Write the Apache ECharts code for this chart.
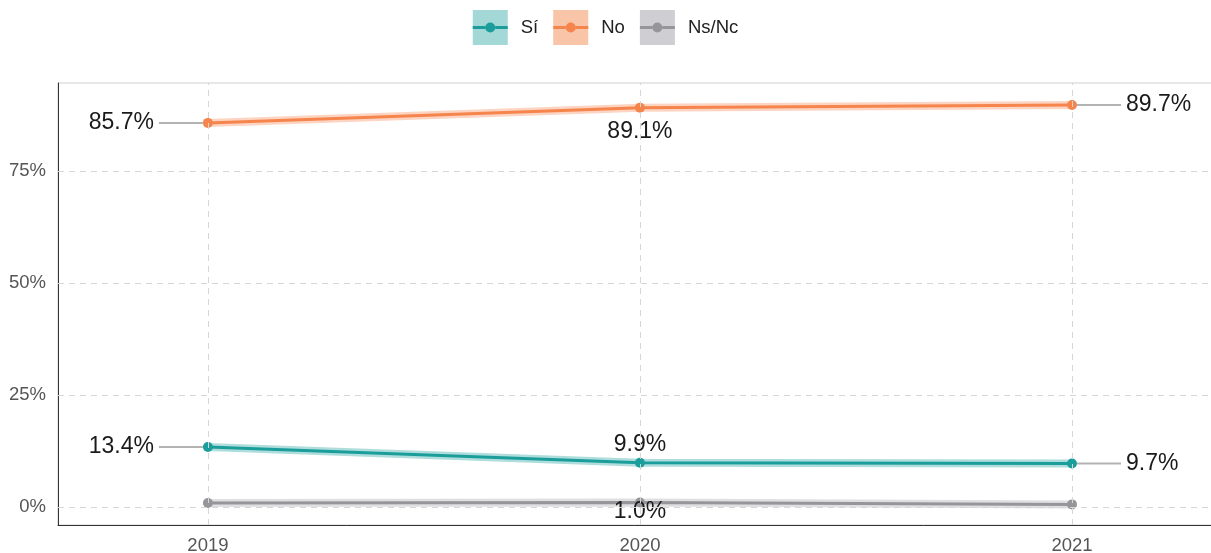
<!DOCTYPE html>
<html><head><meta charset="utf-8">
<script src="https://cdn.jsdelivr.net/npm/echarts@6/dist/echarts.min.js"></script>
<style>html,body{margin:0;padding:0;background:#fff}#c{width:1211px;height:553px}</style>
</head><body><div id="c"></div>
<script>
const years = [2019, 2020, 2021];
const seriesNames = ['Sí', 'No', 'Ns/Nc'];
const si = [13.4, 9.9, 9.7];
const no = [85.7, 89.1, 89.7];
const nsnc = [0.9, 1.0, 0.6];
const yTicks = [0, 25, 50, 75];
const labelPos = {
  'Sí': ['left', 'top', 'right'],
  'No': ['left', 'bottom', 'right'],
  'Ns/Nc': [null, 'overlap', null]
};
const colors = {'Sí': '#1b9e9b', 'No': '#f5854c', 'Ns/Nc': '#96969a'};
const bandColors = {'Sí': 'rgba(27,158,155,0.35)', 'No': 'rgba(245,133,76,0.35)', 'Ns/Nc': 'rgba(150,150,154,0.3)'};
const boxColors = {'Sí': '#a3d8d6', 'No': '#f8c5a8', 'Ns/Nc': '#cfcfd3'};
const values = {'Sí': si, 'No': no, 'Ns/Nc': nsnc};
const FONT = 'Liberation Sans, Arial, sans-serif';

const chart = echarts.init(document.getElementById('c'), null, {renderer: 'canvas'});

const rich = {
  t: {fontSize: 23, color: '#1a1a1a', fontFamily: FONT},
  tl: {fontSize: 23, color: '#1a1a1a', fontFamily: FONT, padding: [0, 5, 0, 0]},
  tr: {fontSize: 23, color: '#1a1a1a', fontFamily: FONT, padding: [0, 0, 0, 5]},
  ln: {width: 44, height: 2, backgroundColor: '#b3b3b3', verticalAlign: 'middle'}
};

const series = [];
seriesNames.forEach((n, k) => {
  series.push({
    name: n + ' band', type: 'line', silent: true, z: 1,
    data: years.map((y, i) => [y, values[n][i]]),
    showSymbol: false, symbol: 'none',
    lineStyle: {width: 8, color: bandColors[n]},
    itemStyle: {color: bandColors[n]},
    markLine: k === 0 ? {
      silent: true, symbol: 'none', label: {show: false},
      lineStyle: {type: [6, 5], color: '#d6d6d6', width: 1},
      data: years.map(y => ({xAxis: y})).concat(yTicks.map(v => ({yAxis: v})))
    } : undefined
  });
});
seriesNames.forEach(n => {
  series.push({
    name: n, type: 'line', z: 3,
    symbol: 'circle', symbolSize: 10,
    lineStyle: {width: 3, color: colors[n]},
    itemStyle: {color: colors[n], borderWidth: 0},
    data: years.map((y, i) => {
      const pos = labelPos[n][i];
      const d = {value: [y, values[n][i]]};
      if (pos) {
        const txt = values[n][i].toFixed(1) + '%';
        if (pos === 'left') d.label = {show: true, position: 'left', distance: 0, formatter: '{tl|' + txt + '}{ln|}', rich: rich};
        else if (pos === 'right') d.label = {show: true, position: 'right', distance: 0, formatter: '{ln|}{tr|' + txt + '}', rich: rich};
        else if (pos === 'top') d.label = {show: true, position: 'top', distance: 2, formatter: '{t|' + txt + '}', rich: rich};
        else if (pos === 'bottom') d.label = {show: true, position: 'bottom', distance: 8, formatter: '{t|' + txt + '}', rich: rich};
        else d.label = {show: true, position: 'inside', offset: [0, 9], formatter: '{t|' + txt + '}', rich: rich};
      } else {
        d.label = {show: false};
      }
      return d;
    })
  });
});

const legendIcon = 'path://M0,0 L0.01,0 L0,0.01 Z M35,35 L34.99,35 L35,34.99 Z M0,16 L12.5,16 L12.5,19 L0,19 Z M22.5,16 L35,16 L35,19 L22.5,19 Z M12.5,17.5 A5,5 0 1,1 22.5,17.5 A5,5 0 1,1 12.5,17.5 Z';

chart.setOption({
  animation: false,
  backgroundColor: '#fff',
  textStyle: {fontFamily: FONT},
  legend: [
    {top: 5, left: 'center', itemWidth: 35, itemHeight: 35, itemGap: 15, icon: 'rect',
     selectedMode: false,
     textStyle: {fontSize: 18.5, color: 'rgba(0,0,0,0)', padding: [0, 0, 0, 8]},
     data: seriesNames.map(n => ({name: n, itemStyle: {color: boxColors[n]}}))},
    {top: 5, left: 'center', itemWidth: 35, itemHeight: 35, itemGap: 15,
     selectedMode: false,
     textStyle: {fontSize: 18.5, color: '#222', padding: [0, 0, 0, 8]},
     data: seriesNames.map(n => ({name: n, icon: legendIcon}))}
  ],
  grid: {left: 58, right: -4, top: 83, bottom: 28, show: true, borderColor: '#cfcfcf', borderWidth: 1, outerBoundsMode: 'none', containLabel: false},
  xAxis: {
    type: 'value', min: 2018.653, max: 2021.331,
    axisLine: {show: true, onZero: false, lineStyle: {color: '#333', width: 1}},
    axisTick: {show: false},
    splitLine: {show: false},
    axisLabel: {customValues: years, fontSize: 18.5, color: '#555', margin: 11, formatter: v => String(v)}
  },
  yAxis: {
    type: 'value', min: -4, max: 94.6,
    axisLine: {show: true, onZero: false, lineStyle: {color: '#333', width: 1}},
    axisTick: {show: false},
    splitLine: {show: false},
    axisLabel: {customValues: yTicks, fontSize: 18.5, color: '#555', margin: 12, formatter: v => v + '%'}
  },
  series: series
});
</script></body></html>
